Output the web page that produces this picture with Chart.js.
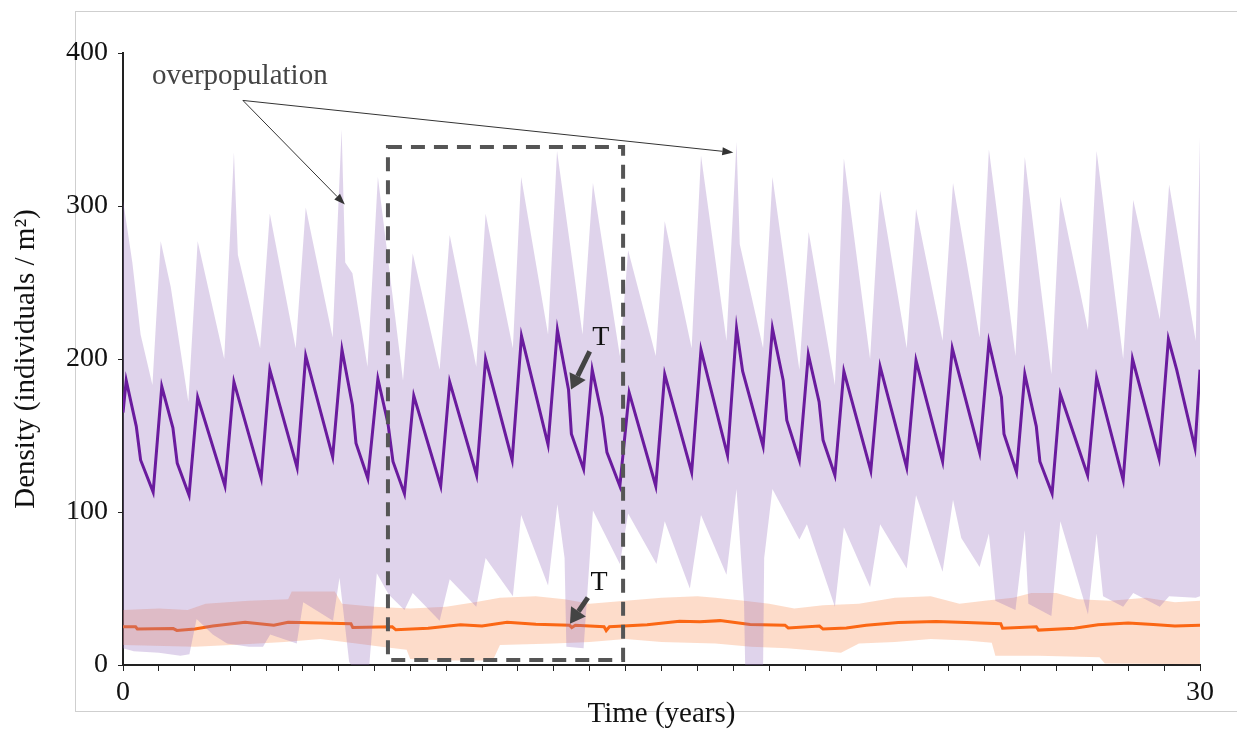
<!DOCTYPE html>
<html>
<head>
<meta charset="utf-8">
<title>Density over time</title>
<script src="https://cdn.jsdelivr.net/npm/chart.js@4.4.1/dist/chart.umd.min.js"></script>
<style>
  html, body { margin: 0; padding: 0; background: #fff; }
  #wrap { position: relative; width: 1237px; height: 729px; }
</style>
</head>
<body>
<div id="wrap"><canvas id="densityChart" width="1237" height="729"></canvas></div>
<script>
// [time (years), density] pairs
const purpleMean = [
  [0, 165], [0.09, 186], [0.37, 156], [0.49, 134], [0.84, 113],
  [1.08, 182], [1.39, 155], [1.51, 132], [1.84, 111],
  [2.08, 175], [2.84, 117],
  [3.09, 185], [3.85, 122],
  [4.09, 193], [4.85, 129],
  [5.09, 202], [5.84, 136],
  [6.1, 206], [6.39, 170], [6.49, 145], [6.82, 122],
  [7.1, 187], [7.38, 158], [7.52, 133], [7.84, 112],
  [8.1, 176], [8.85, 117],
  [9.1, 185], [9.85, 124],
  [10.1, 200], [10.84, 134],
  [11.1, 215], [11.84, 144],
  [12.1, 219], [12.41, 180], [12.49, 151], [12.83, 128],
  [13.07, 193], [13.35, 162], [13.48, 139], [13.84, 117],
  [14.1, 178], [14.84, 117],
  [15.09, 190], [15.84, 126],
  [16.1, 206], [16.84, 137],
  [17.09, 220], [17.26, 192], [17.83, 143],
  [18.09, 220], [18.39, 186], [18.49, 160], [18.84, 134],
  [19.09, 203], [19.39, 172], [19.5, 147], [19.83, 124],
  [20.08, 192], [20.83, 127],
  [21.09, 195], [21.83, 129],
  [22.09, 199], [22.83, 133],
  [23.1, 207], [23.86, 139],
  [24.12, 211], [24.47, 175], [24.54, 151], [24.89, 126],
  [25.12, 190], [25.44, 156], [25.54, 133], [25.88, 112],
  [26.11, 177], [26.87, 124],
  [27.12, 188], [27.86, 121],
  [28.12, 200], [28.86, 135],
  [29.12, 213], [29.35, 193], [29.86, 142],
  [30, 193],
];

const purpleHigh = [
  [0, 304], [0.26, 263], [0.49, 216], [0.82, 183],
  [1.05, 277], [1.33, 247], [1.82, 172],
  [2.08, 277], [2.82, 200],
  [3.09, 335], [3.2, 268], [3.82, 207],
  [4.09, 295], [4.81, 207],
  [5.09, 299], [5.84, 214],
  [6.09, 350], [6.19, 263], [6.39, 256], [6.81, 195],
  [7.1, 319], [7.8, 186],
  [8.07, 269], [8.82, 193],
  [9.1, 281], [9.84, 195],
  [10.1, 295], [10.86, 207],
  [11.09, 319], [11.84, 216],
  [12.09, 336], [12.8, 216],
  [13.09, 315], [13.84, 202],
  [14.07, 271], [14.84, 202],
  [15.09, 290], [15.84, 207],
  [16.1, 333], [16.81, 212],
  [17.09, 342], [17.18, 275], [17.83, 207],
  [18.09, 319], [18.84, 193],
  [19.1, 283], [19.83, 183],
  [20.08, 331], [20.81, 200],
  [21.09, 310], [21.83, 207],
  [22.09, 298], [22.83, 212],
  [23.12, 315], [23.86, 214],
  [24.12, 337], [24.86, 202],
  [25.12, 332], [25.86, 190],
  [26.11, 306], [26.88, 219],
  [27.12, 336], [27.86, 200],
  [28.14, 304], [28.88, 226],
  [29.14, 314], [29.88, 212],
  [30, 345],
];

const purpleLow = [
  [0, 11], [0.3, 9], [1, 8], [1.6, 6], [1.85, 7],
  [2.05, 30], [2.5, 20], [2.9, 14], [3.5, 12], [3.9, 12],
  [4.1, 20], [4.84, 14],
  [5.02, 41], [5.85, 29],
  [6.03, 57], [6.3, 2], [6.36, 0], [6.86, 0],
  [7.07, 60], [7.4, 46], [7.84, 36],
  [8.07, 47], [8.82, 29],
  [9.1, 56], [9.84, 38],
  [10.1, 70], [10.86, 45],
  [11.09, 98], [11.84, 52],
  [12.1, 105], [12.3, 70], [12.35, 12], [12.83, 11],
  [13.09, 101], [13.84, 66],
  [14.07, 99], [14.86, 66],
  [15.09, 94], [15.79, 50],
  [16.1, 98], [16.81, 59],
  [17.09, 115], [17.3, 40], [17.33, 0], [17.83, 0], [17.86, 70],
  [18.09, 115], [18.84, 82],
  [19.05, 92], [19.83, 38],
  [20.08, 90], [20.81, 51],
  [21.09, 92], [21.83, 63],
  [22.09, 111], [22.83, 61],
  [23.12, 108], [23.35, 83], [23.86, 64],
  [24.12, 86], [24.3, 42], [24.86, 36],
  [25.12, 88], [25.22, 40], [25.86, 32],
  [26.11, 94], [26.88, 33],
  [27.12, 86], [27.3, 45], [27.86, 38],
  [28.14, 47], [28.88, 38],
  [29.14, 45], [29.88, 44],
  [30, 45],
];

const orangeMean = [
  [0, 25], [0.35, 25], [0.4, 23.5], [1.4, 23.8], [1.5, 22.6], [2, 23.5],
  [2.5, 25.5], [3.4, 28], [4.2, 26], [4.6, 28], [5.5, 27.5], [6.35, 27],
  [6.4, 24.5], [7.5, 25], [7.6, 23], [8.5, 24], [9.4, 26.3], [10, 25.5],
  [10.7, 27.9], [11.5, 26.7], [12.44, 26], [12.5, 24.5], [12.6, 26],
  [13.4, 25], [13.46, 22.5], [13.55, 25], [14.6, 26.3], [15.5, 28.6],
  [16.07, 28.3], [16.63, 29], [17.47, 26.5], [18.44, 26], [18.53, 24.2],
  [19.4, 25.5], [19.5, 23.5], [20.15, 24.2], [20.7, 26], [21.6, 27.7],
  [22.65, 28.5], [23.5, 27.7], [24.45, 27], [24.5, 24], [25.44, 25],
  [25.5, 22.8], [26.5, 24], [27.16, 26.3], [28, 27.4], [28.7, 26.5],
  [29.3, 25.5], [30, 26],
];

const orangeHigh = [
  [0, 36], [1, 37], [1.8, 36], [2.3, 40], [3.5, 42], [4.6, 43], [4.7, 48],
  [5.9, 48], [6.1, 40], [7, 38], [8, 37], [9, 38], [9.8, 41], [10.5, 44],
  [11.5, 45], [12.3, 43], [13, 40], [14, 42], [15, 44], [16, 45], [16.5, 44],
  [17.3, 42], [18, 40], [18.7, 37], [19.5, 39], [20.5, 40], [21.5, 44],
  [22.5, 45], [23.3, 40], [24, 42], [24.8, 44], [25.3, 47], [26, 47],
  [26.6, 43], [27.5, 42], [28.5, 44], [29.3, 41], [30, 42],
];

const orangeLow = [
  [0, 13], [2, 12], [3, 13], [4.5, 15], [5.5, 17], [6.5, 14], [7.2, 12],
  [7.9, 10], [8, 4], [9, 3], [10.3, 3], [10.5, 13], [12, 14], [13, 15],
  [14, 17], [15, 15], [16.5, 14], [17.5, 12], [18.5, 11], [19, 10], [20, 8],
  [20.5, 14], [21.5, 15], [22.5, 17], [23.5, 16], [24.2, 14.5], [24.3, 6],
  [25.5, 6], [27.2, 5], [27.35, 1], [30, 0.5],
];

const xTicks = [0, 30];
const yTicks = [0, 100, 200, 300, 400];

const serif = '"Liberation Serif", "Times New Roman", serif';

function toPoints(pairs) {
  return pairs.map(([t, v]) => ({ x: t, y: v }));
}

function drawArrow(ctx, x1, y1, x2, y2, width, headLen, headHalf, color) {
  const angle = Math.atan2(y2 - y1, x2 - x1);
  const bx = x2 - headLen * Math.cos(angle);
  const by = y2 - headLen * Math.sin(angle);

  ctx.strokeStyle = color;
  ctx.fillStyle = color;
  ctx.lineWidth = width;
  ctx.beginPath();
  ctx.moveTo(x1, y1);
  ctx.lineTo(bx, by);
  ctx.stroke();

  ctx.beginPath();
  ctx.moveTo(x2, y2);
  ctx.lineTo(bx + headHalf * Math.sin(angle), by - headHalf * Math.cos(angle));
  ctx.lineTo(bx - headHalf * Math.sin(angle), by + headHalf * Math.cos(angle));
  ctx.closePath();
  ctx.fill();
}

const framePlugin = {
  id: 'frame',
  beforeDraw(chart) {
    const { ctx } = chart;
    ctx.save();
    ctx.strokeStyle = '#cfcfcf';
    ctx.lineWidth = 1;
    ctx.strokeRect(75.5, 11.5, 1240, 700);
    ctx.restore();
  },
};

const notesPlugin = {
  id: 'notes',
  afterDraw(chart) {
    const { ctx, scales: { x, y } } = chart;
    const px = (t) => x.getPixelForValue(t);
    const py = (v) => y.getPixelForValue(v);

    ctx.save();

    // highlighted window
    ctx.setLineDash([14, 9]);
    ctx.lineWidth = 4;
    ctx.strokeStyle = '#555';
    ctx.strokeRect(px(7.38), py(338.6), px(13.93) - px(7.38), py(3.3) - py(338.6));
    ctx.setLineDash([]);

    ctx.font = '29px ' + serif;
    ctx.textBaseline = 'middle';
    ctx.fillStyle = '#444';
    ctx.textAlign = 'left';
    ctx.fillText('overpopulation', px(0.81), py(385));

    drawArrow(ctx, px(3.34), py(369), px(6.18), py(301), 1, 11, 4, '#333');
    drawArrow(ctx, px(3.34), py(369), px(17.0), py(335), 1, 11, 4, '#333');

    ctx.font = '28px ' + serif;
    ctx.fillStyle = '#111';
    ctx.textAlign = 'center';
    ctx.fillText('T', px(13.31), py(214));
    ctx.fillText('T', px(13.26), py(54));

    drawArrow(ctx, px(13.0), py(205), px(12.48), py(180), 5, 15, 9, '#444');
    drawArrow(ctx, px(12.95), py(44), px(12.45), py(27), 5, 15, 9, '#444');

    ctx.restore();
  },
};

function bandStyle(color) {
  return {
    borderWidth: 0,
    borderColor: 'transparent',
    backgroundColor: color,
    pointRadius: 0,
    tension: 0,
  };
}

new Chart(document.getElementById('densityChart'), {
  type: 'line',
  data: {
    datasets: [
      {
        data: toPoints(purpleMean),
        borderColor: '#6a1b9e',
        borderWidth: 3,
        pointRadius: 0,
        tension: 0,
        fill: false,
        order: 0,
      },
      Object.assign({ data: toPoints(purpleHigh), fill: 2, order: 1 }, bandStyle('rgba(150, 110, 190, 0.3)')),
      Object.assign({ data: toPoints(purpleLow), fill: false, order: 1 }, bandStyle('rgba(150, 110, 190, 0.3)')),
      {
        data: toPoints(orangeMean),
        borderColor: '#fb6714',
        borderWidth: 3,
        pointRadius: 0,
        tension: 0,
        fill: false,
        order: 2,
      },
      Object.assign({ data: toPoints(orangeHigh), fill: 5, order: 3 }, bandStyle('rgba(250, 140, 80, 0.3)')),
      Object.assign({ data: toPoints(orangeLow), fill: false, order: 3 }, bandStyle('rgba(250, 140, 80, 0.3)')),
    ],
  },
  options: {
    responsive: false,
    animation: false,
    layout: {
      padding: { top: 53, right: 37, bottom: 0, left: 0 },
    },
    plugins: {
      legend: { display: false },
      tooltip: { enabled: false },
    },
    scales: {
      x: {
        type: 'linear',
        min: 0,
        max: 30,
        afterFit: (scale) => { scale.height = 64; },
        afterBuildTicks: (scale) => {
          scale.ticks = [];
          for (let t = 0; t <= 30; t += 1) {
            scale.ticks.push({ value: t });
          }
        },
        border: { color: '#222', width: 2 },
        grid: { drawOnChartArea: false, tickLength: 6, color: '#222', tickWidth: 1 },
        ticks: {
          autoSkip: false,
          maxRotation: 0,
          padding: 5,
          color: '#111',
          font: { family: serif, size: 28 },
          callback: (value) => (xTicks.includes(value) ? String(value) : ''),
        },
        title: {
          display: true,
          text: 'Time (years)',
          color: '#111',
          font: { family: serif, size: 29, lineHeight: 1 },
          padding: { top: 0, bottom: 0 },
        },
      },
      y: {
        min: 0,
        max: 400,
        afterFit: (scale) => { scale.width = 123; },
        afterBuildTicks: (scale) => {
          scale.ticks = yTicks.map((v) => ({ value: v }));
        },
        border: { color: '#222', width: 2 },
        grid: { drawOnChartArea: false, tickLength: 5, color: '#222', tickWidth: 1 },
        ticks: {
          padding: 10,
          color: '#111',
          font: { family: serif, size: 28 },
        },
        title: {
          display: true,
          text: 'Density (individuals / m²)',
          color: '#111',
          font: { family: serif, size: 29 },
          padding: { top: 9, bottom: 0 },
        },
      },
    },
  },
  plugins: [framePlugin, notesPlugin],
});
</script>
</body>
</html>
